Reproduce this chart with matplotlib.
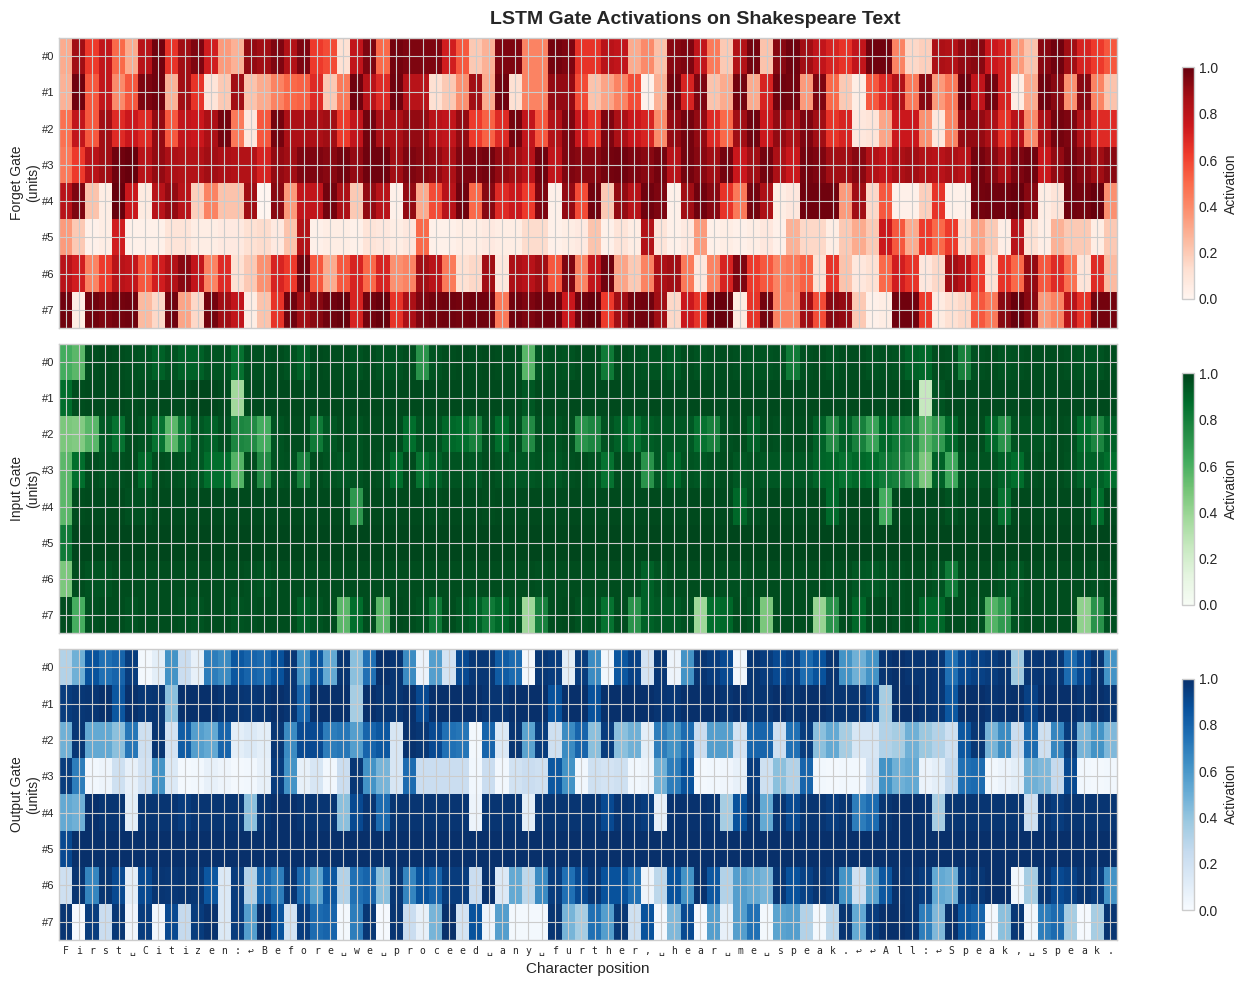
import numpy as np
import matplotlib
matplotlib.use('Agg')
import matplotlib.pyplot as plt

text = "First Citizen:\nBefore we proceed any further, hear me speak.\n\nAll:\nSpeak, speak."
char_labels = ['␣' if c == ' ' else '↩' if c == '\n' else c for c in text]

unit_labels = ['#0', '#1', '#2', '#3', '#4', '#5', '#6', '#7']
gate_names = ['Forget Gate', 'Input Gate', 'Output Gate']
gate_cmaps = ['Reds', 'Greens', 'Blues']

# activations in percent, one row per unit, 80 characters
forget_gate = [
    [30,88,63,78,50,30,81,98,65,88, 95,73,35,28,91,88,95,83,95,63, 58,12,78,95,50,97,95,95,95,73, 55,20,28,95,95,42,42,97,95,65,
     65,81,78,30,40,23,93,95,78,45, 20,83,97,22,93,98,88,78,71,65, 78,98,98,42,15,18,85,83,91,93, 75,71,35,22,93,98,88,71,63,55],
    [28,98,55,78,40,55,95,98,28,88, 65,10,20,88,22,30,42,50,52,68, 20,45,98,81,68,98,81,81,12,20, 38,88,30,98,12,42,42,91,91,58,
     22,32,42,58,2,28,97,71,95,22, 30,97,30,71,98,97,35,95,50,20, 5,55,68,83,45,93,35,45,98,78, 97,71,5,30,98,93,38,93,42,22],
    [48,78,55,88,68,75,68,91,55,78, 75,85,97,45,8,55,97,85,85,85, 88,63,78,97,85,85,91,91,81,78, 91,63,52,68,97,78,55,83,95,75,
     65,95,85,75,71,40,91,97,91,68, 50,88,98,75,91,85,95,88,65,71, 8,10,32,75,75,38,8,42,91,91, 85,65,81,40,85,97,95,83,68,68],
    [45,63,81,88,98,100,81,91,85,83, 83,88,85,83,83,71,91,88,95,95, 93,97,91,98,98,88,95,93,91,85, 95,95,97,91,88,81,98,78,95,93,
     93,97,98,95,93,97,81,97,93,88, 97,75,88,97,85,75,97,95,88,88, 93,83,78,85,88,83,81,85,81,97, 93,85,95,98,75,91,97,93,88,93],
    [81,95,22,5,100,75,6,81,91,81, 18,42,22,22,88,0,93,35,78,78, 97,85,20,91,81,3,91,30,58,81, 98,50,93,68,75,63,95,3,91,58,
     98,20,91,81,98,95,3,88,98,93, 65,45,97,85,5,8,98,98,98,35, 88,15,55,3,3,18,65,3,3,97, 98,98,100,93,5,10,98,97,100,38],
    [35,20,3,5,73,3,3,3,10,10, 5,5,7,7,12,14,7,22,83,3, 5,5,3,10,8,5,8,50,3,3, 5,5,7,5,5,14,14,3,5,7,
     22,3,10,5,83,10,3,7,35,3, 5,3,5,8,3,28,15,15,5,20, 30,20,75,55,30,63,50,63,12,32, 20,4,81,12,4,28,20,20,5,20],
    [81,73,42,63,81,78,55,73,83,93, 78,42,68,12,20,38,71,63,97,55, 30,55,71,50,71,38,42,88,81,45, 12,15,88,8,85,81,88,55,95,42,
     78,98,32,20,42,85,88,45,8,42, 71,95,63,55,42,45,52,12,65,22, 8,12,50,73,65,8,15,88,81,63, 12,65,50,91,55,68,48,10,68,25],
    [98,5,98,95,97,98,25,15,98,32, 15,97,88,78,5,22,65,98,88,93, 98,100,71,97,100,65,85,95,97,98, 97,98,98,45,98,95,98,98,75,98,
     100,63,88,97,98,88,15,75,65,99, 100,6,65,97,42,42,88,58,93,91, 20,3,5,98,98,63,6,12,15,55, 45,93,100,93,35,42,81,65,97,97],
]

input_gate = [
    [62,56,97,98,97,96,95,91,95,91, 91,95,95,85,96,96,97,95,91,98, 97,97,95,97,95,95,97,72,95,97, 98,97,98,97,97,57,95,96,95,97,
     97,82,97,96,95,95,93,97,95,96, 97,96,95,95,96,82,96,97,95,97, 97,95,96,95,91,89,97,96,79,96, 97,95,96,97,97,97,96,95,95,97],
    [87,97,98,98,98,97,98,98,98,98, 99,99,98,37,98,98,98,98,98,98, 98,98,98,98,98,98,98,98,98,98, 98,98,98,98,98,94,98,98,98,98,
     98,98,98,98,98,98,98,98,98,98, 98,98,98,98,98,98,98,98,98,98, 98,98,98,98,97,25,95,98,98,98, 98,98,98,98,98,98,98,98,98,98],
    [48,46,57,93,85,97,95,85,56,82, 94,91,96,77,75,62,95,97,97,82, 94,97,95,97,97,97,87,95,95,89, 87,79,96,87,96,75,96,95,97,72,
     77,95,91,85,92,94,94,94,85,79, 96,97,91,97,96,97,97,91,75,91, 79,66,89,82,79,58,69,89,97,97, 89,72,95,95,95,97,96,87,77,91],
    [56,87,97,95,96,97,89,97,96,95, 94,87,87,58,97,75,95,96,79,97, 95,94,95,97,96,87,98,85,91,95, 95,94,97,95,94,94,95,94,96,97,
     95,85,97,97,72,94,89,95,94,95, 97,94,95,94,94,94,94,90,89,85, 89,87,82,79,72,48,91,64,95,95, 95,91,87,96,97,97,95,91,91,87],
    [56,97,98,98,98,96,96,98,98,98, 98,98,98,98,98,98,98,98,98,98, 98,98,70,98,98,98,98,98,97,98, 98,98,97,98,98,98,98,98,98,98,
     98,98,98,98,98,98,98,98,98,98, 98,89,96,98,98,98,98,98,88,98, 98,98,62,98,98,98,98,95,98,98, 98,85,98,98,98,98,98,98,87,98],
    [82,99,99,99,99,99,99,99,99,99, 99,99,99,99,99,99,99,99,99,99, 99,99,99,99,99,99,99,99,99,99, 99,99,99,99,99,99,99,99,99,99,
     99,99,99,99,99,99,99,99,99,99, 99,99,99,99,99,99,99,99,99,99, 99,99,99,99,99,99,99,99,99,99, 99,99,99,99,99,99,99,99,99,99],
    [48,97,95,95,97,97,97,97,97,97, 97,97,97,97,96,95,97,97,97,97, 97,97,97,97,97,97,97,97,97,97, 97,97,97,97,97,97,96,97,97,97,
     97,97,97,97,91,95,97,97,97,97, 96,96,97,97,97,97,97,97,96,97, 94,93,95,96,97,97,95,82,97,97, 97,95,94,97,97,97,97,97,96,97],
    [97,61,96,97,97,95,97,97,97,96, 95,97,97,95,96,97,97,97,91,95, 97,56,87,97,56,98,97,95,82,97, 94,91,82,89,95,38,79,97,98,95,
     96,85,97,72,91,93,93,96,38,87, 89,97,95,48,97,97,97,40,72,97, 89,97,98,96,97,89,89,97,97,96, 58,69,95,97,97,97,97,42,72,96],
]

output_gate = [
    [31,49,87,75,80,95,2,10,62,23, 8,70,65,85,80,77,87,97,62,85, 52,98,42,75,100,98,65,6,57,18, 90,97,97,83,77,2,97,95,10,95,
     65,3,85,93,18,97,5,62,98,95, 90,3,98,95,90,93,77,87,98,62, 49,62,98,100,98,98,97,75,90,93, 95,98,37,97,98,97,77,90,98,62],
    [95,97,98,100,85,100,97,98,42,100, 100,100,98,98,97,98,100,98,80,100, 100,100,35,100,98,98,100,90,100,100, 100,100,98,98,100,100,100,87,100,100,
     87,100,100,100,100,98,97,100,100,100, 98,100,98,98,100,98,100,100,98,98, 98,93,35,100,100,98,97,85,100,100, 98,99,100,93,100,100,100,98,100,98],
    [49,97,52,52,42,73,21,98,18,83, 57,52,80,10,14,10,97,65,90,90, 70,73,57,80,85,16,99,97,90,75, 73,2,80,14,98,55,95,21,65,80,
     42,95,42,49,10,70,62,77,23,57, 57,18,80,80,21,75,95,42,52,35, 16,16,31,35,49,38,31,21,85,97, 47,65,23,77,21,67,95,47,62,45],
    [95,70,3,5,21,8,18,62,14,2, 3,8,5,2,3,8,95,62,8,16, 3,23,97,62,47,16,77,23,23,23, 23,3,23,3,19,23,21,85,62,3,
     21,18,21,3,5,49,70,87,2,3, 4,8,95,21,42,31,80,3,2,3, 3,18,62,49,52,6,10,25,75,77, 3,6,10,49,45,25,90,3,2,3],
    [52,49,100,98,98,10,98,98,98,95, 98,98,98,98,42,98,100,100,98,98, 98,42,90,98,77,98,98,98,98,98, 98,5,98,98,98,10,98,98,98,98,
     98,90,98,97,95,8,99,99,99,98, 35,87,98,52,98,90,98,98,95,98, 70,77,98,100,100,99,35,98,98,98, 98,98,98,21,98,95,98,98,98,98],
    [90,100,100,100,100,100,100,100,100,100, 100,100,100,100,100,100,100,100,100,100, 100,100,100,100,100,100,100,100,100,100, 100,100,100,100,100,100,100,100,100,100,
     100,100,100,100,100,100,100,100,100,100, 100,100,100,100,100,100,100,100,100,100, 100,100,100,100,100,100,100,100,100,100, 100,100,100,100,100,100,100,100,100,100],
    [21,98,67,98,90,10,90,98,97,98, 97,85,14,95,31,80,70,97,77,55, 85,31,75,80,42,97,67,87,80,95, 95,23,99,14,52,28,65,95,75,90,
     97,87,87,75,5,28,87,62,99,85, 31,57,52,47,97,87,93,98,95,62, 21,55,85,99,98,95,52,49,95,97, 100,100,3,35,97,90,93,98,95,62],
    [98,1,95,23,97,4,95,3,90,25, 95,99,14,95,57,100,87,18,95,77, 80,2,70,97,1,98,23,8,47,100, 18,87,5,57,2,2,2,98,47,35,
     75,57,97,21,87,2,45,90,1,57, 8,57,75,2,55,57,31,2,28,98, 52,95,100,100,98,70,45,100,85,80, 2,42,97,3,70,77,35,1,35,98],
]

plt.style.use('seaborn-v0_8-whitegrid')
plt.rcParams['font.family'] = ['Liberation Sans', 'DejaVu Sans']

W, H = 1245, 985


def px_axes(fig, left, top, right, bottom):
    return fig.add_axes([left / W, 1 - bottom / H, (right - left) / W, (bottom - top) / H])


fig = plt.figure(figsize=(W / 100, H / 100), dpi=100)

panels = [(38, 328), (344, 633), (649, 940)]
bars = [(67.5, 299), (373.5, 605), (678.5, 910)]

for i, values in enumerate([forget_gate, input_gate, output_gate]):
    ax = px_axes(fig, 59, panels[i][0], 1117, panels[i][1])
    im = ax.imshow(np.array(values) / 100, aspect='auto', cmap=gate_cmaps[i], vmin=0, vmax=1,
                   interpolation='nearest')
    ax.set_yticks(range(len(unit_labels)))
    ax.set_yticklabels(unit_labels, fontsize=8)
    ax.set_ylabel(gate_names[i] + '\n(units)', fontsize=10, labelpad=1)
    ax.set_xticks(range(len(char_labels)))
    if i == 2:
        ax.set_xticklabels(char_labels, fontsize=7, family='DejaVu Sans Mono')
        ax.tick_params(axis='x', pad=4)
        ax.set_xlabel('Character position', fontsize=11, labelpad=5)
    else:
        ax.set_xticklabels([])
    ax.grid(True, color='#cccccc', linewidth=0.8)

    cax = px_axes(fig, 1182, bars[i][0], 1194, bars[i][1])
    cbar = fig.colorbar(im, cax=cax)
    cbar.set_ticks([0, 0.2, 0.4, 0.6, 0.8, 1.0])
    cbar.ax.tick_params(labelsize=10)
    cbar.set_label('Activation', fontsize=10)

fig.text(695 / W, 1 - 18 / H, 'LSTM Gate Activations on Shakespeare Text', fontsize=14, fontweight='bold',
         ha='center', va='center_baseline')

fig.savefig('out.png', dpi=100)
